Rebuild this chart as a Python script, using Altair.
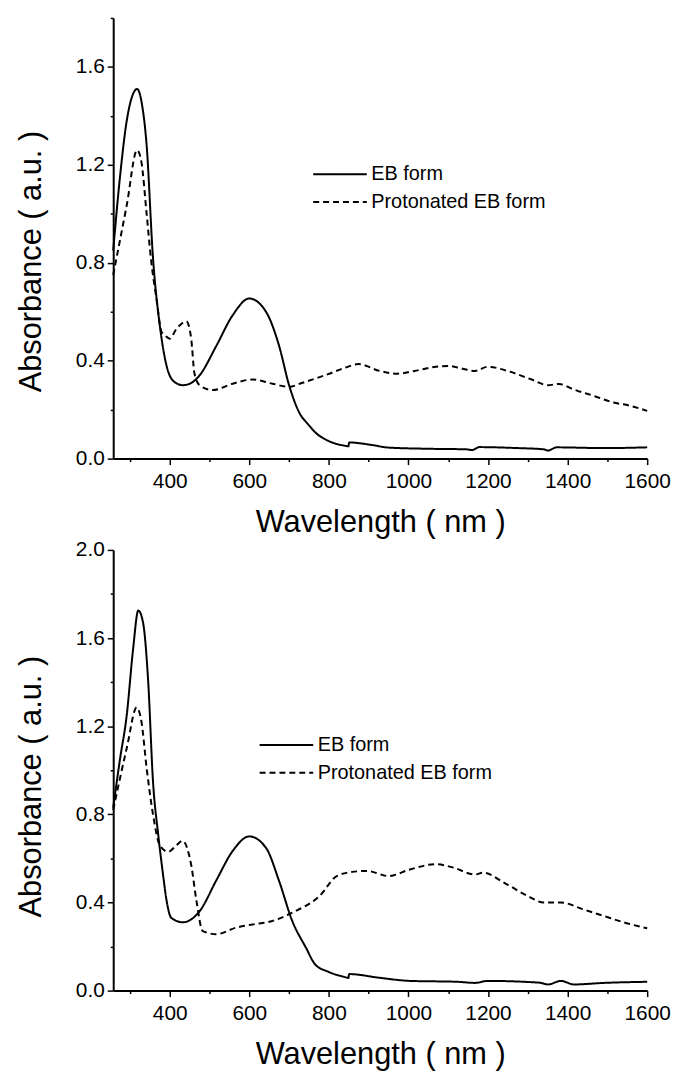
import altair as alt
import pandas as pd

# ---------------- data ----------------
# Top panel
top_eb_wl = [258, 275, 292, 308, 318, 330, 342, 358, 375, 392, 412, 433, 455, 475, 517, 558, 600, 642, 675, 700, 725, 750,
             766, 798, 842, 849, 851, 907, 950, 1058, 1145, 1160, 1178, 1275, 1340, 1351, 1372, 1492, 1600]
top_eb_val = [0.85, 1.15, 1.38, 1.49, 1.51, 1.45, 1.28, 0.82, 0.545, 0.38, 0.313, 0.30, 0.31, 0.34, 0.46, 0.585, 0.654, 0.60, 0.46, 0.30, 0.19, 0.136,
              0.107, 0.073, 0.052, 0.05, 0.066, 0.056, 0.045, 0.04, 0.038, 0.035, 0.047, 0.043, 0.038, 0.033, 0.046, 0.043, 0.046]

top_pr_wl = [258, 292, 318, 329, 342, 354, 367, 379, 390, 400, 417, 442, 454, 462, 475, 508, 558, 608, 658, 700, 734, 798, 842, 874,
             928, 972, 1015, 1069, 1102, 1134, 1167, 1199, 1253, 1308, 1351, 1378, 1416, 1470, 1513, 1557, 1600]
top_pr_val = [0.75, 1.035, 1.26, 1.21, 1.0, 0.80, 0.65, 0.52, 0.50, 0.49, 0.53, 0.56, 0.49, 0.35, 0.30, 0.28, 0.306, 0.323, 0.306, 0.293, 0.31, 0.345, 0.372, 0.386,
              0.358, 0.347, 0.358, 0.375, 0.378, 0.368, 0.358, 0.375, 0.356, 0.324, 0.30, 0.305, 0.282, 0.254, 0.23, 0.216, 0.195]

# Bottom panel
bot_eb_wl = [258, 275, 292, 308, 321, 333, 346, 358, 371, 383, 392, 404, 433, 475, 517, 558, 600, 642, 675, 708, 742,
             766, 798, 847, 849, 851, 928, 1004, 1123, 1167, 1199, 1329, 1351, 1383, 1416, 1492, 1600]
bot_eb_val = [0.83, 1.05, 1.25, 1.55, 1.725, 1.67, 1.40, 0.95, 0.71, 0.53, 0.41, 0.33, 0.31, 0.36, 0.50, 0.633, 0.70, 0.648, 0.497, 0.316, 0.196,
              0.118, 0.086, 0.058, 0.057, 0.075, 0.058, 0.044, 0.04, 0.035, 0.044, 0.036, 0.028, 0.044, 0.028, 0.035, 0.04]

bot_pr_wl = [258, 292, 317, 329, 342, 358, 375, 396, 417, 432, 454, 467, 483, 517, 567, 608, 658, 708, 777, 820, 864, 896,
             950, 1004, 1069, 1113, 1167, 1188, 1243, 1297, 1340, 1383, 1437, 1492, 1546, 1600]
bot_pr_val = [0.82, 1.10, 1.285, 1.22, 1.01, 0.80, 0.66, 0.63, 0.66, 0.68, 0.57, 0.41, 0.27, 0.256, 0.286, 0.30, 0.316, 0.354, 0.43, 0.52, 0.54, 0.543,
              0.52, 0.55, 0.574, 0.558, 0.527, 0.535, 0.487, 0.432, 0.40, 0.40, 0.37, 0.338, 0.307, 0.283]

series_names = ["EB form", "Protonated EB form"]
x_major = [400, 600, 800, 1000, 1200, 1400, 1600]
x_minor = [300, 500, 700, 900, 1100, 1300, 1500]
top_y_major = [0.0, 0.4, 0.8, 1.2, 1.6]
top_y_minor = [0.2, 0.6, 1.0, 1.4, 1.8]
bot_y_major = [0.0, 0.4, 0.8, 1.2, 1.6, 2.0]
bot_y_minor = [0.2, 0.6, 1.0, 1.4, 1.8]

FONT = "Liberation Sans"
W, H = 538, 444


def frame(eb_wl, eb_val, pr_wl, pr_val):
    a = pd.DataFrame({"wl": eb_wl, "val": eb_val, "series": series_names[0]})
    b = pd.DataFrame({"wl": pr_wl, "val": pr_val, "series": series_names[1]})
    return pd.concat([a, b], ignore_index=True)


def panel(df, ymax, ymaj, ymin, legx, legy, ytitle_y):
    xs = alt.Scale(domain=[258, 1600], nice=False, zero=False)
    ys = alt.Scale(domain=[0, ymax], nice=False, zero=True)
    lines = alt.Chart(df).mark_line(color="black", strokeWidth=2, interpolate="monotone").encode(
        x=alt.X("wl:Q", scale=xs, axis=alt.Axis(
            values=x_major, title="Wavelength ( nm )", orient="bottom", grid=False, labelFlush=False,
            tickSize=6, labelPadding=6, titlePadding=16, format="d")),
        y=alt.Y("val:Q", scale=ys, axis=alt.Axis(
            values=ymaj, title="Absorbance ( a.u. )", orient="left", grid=False, labelFlush=False,
            tickSize=6, labelPadding=3, titlePadding=28, format=".1f", titleY=ytitle_y)),
        strokeDash=alt.StrokeDash("series:N", scale=alt.Scale(domain=series_names, range=[[1, 0], [6, 4]]),
                                  legend=alt.Legend(title=None, orient="none", legendX=legx, legendY=legy,
                                                    symbolType="M-2,0H2", symbolSize=729,
                                                    symbolStrokeWidth=2, symbolStrokeColor="black",
                                                    labelFontSize=20, labelFont=FONT, labelColor="black",
                                                    labelOffset=17, rowPadding=3, labelLimit=400)),
        order=alt.Order("wl:Q"),
    )
    minor = alt.Chart(df).mark_line(opacity=0).encode(
        x=alt.X("wl:Q", scale=xs, axis=alt.Axis(values=x_minor, labels=False, domain=False, orient="bottom",
                                                tickSize=3, title=None, grid=False)),
        y=alt.Y("val:Q", scale=ys, axis=alt.Axis(values=ymin, labels=False, domain=False, orient="left",
                                                 tickSize=3, title=None, grid=False)),
        detail="series:N",
    )
    return alt.layer(lines, minor).resolve_axis(x="independent", y="independent").properties(width=W, height=H)


top = panel(frame(top_eb_wl, top_eb_val, top_pr_wl, top_pr_val), 1.8, top_y_major, top_y_minor, 214, 143, 245)
bot = panel(frame(bot_eb_wl, bot_eb_val, bot_pr_wl, bot_pr_val), 2.0, bot_y_major, bot_y_minor, 160, 182, 238)

chart = alt.vconcat(top, bot, spacing=2).resolve_scale(
    strokeDash="independent", x="independent", y="independent"
).resolve_legend(strokeDash="independent").properties(
    padding={"left": 7, "top": 5, "right": 0, "bottom": 0},
    background="white",
).configure_view(stroke=None).configure_axis(
    domainColor="black", domainWidth=2, tickColor="black", tickWidth=1.5,
    labelFont=FONT, labelFontSize=21, labelColor="black",
    titleFont=FONT, titleFontSize=31, titleFontWeight="normal", titleColor="black",
)

chart.save("out.html", embed_options={"renderer": "svg", "actions": False})
